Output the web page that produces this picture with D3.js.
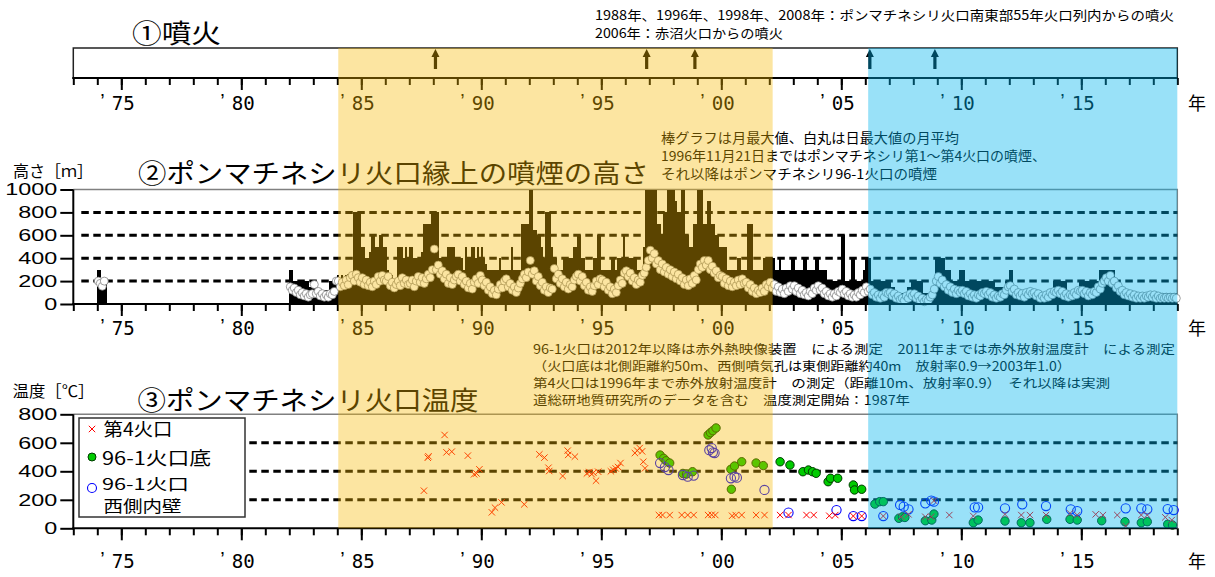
<!DOCTYPE html>
<meta charset='utf-8'>
<head>
  <style>
    body { margin: 0; background: #fff; }
    svg { display: block; }
    text { font-family: 'Noto Sans CJK JP', sans-serif; fill: #000; white-space: pre; }
    .num { font-family: 'Liberation Sans', Arial, sans-serif; }
    .mono { font-family: 'DejaVu Sans Mono', monospace; }
  </style>
</head>
<body>
<script src='https://d3js.org/d3.v7.min.js'></script>
<script>

// ---- data ----
var eruptions = [1988.09, 1996.89, 1998.9, 2006.19, 2008.9];
var shadeYellow = [1984.04, 2002.14];
var shadeBlue = [2006.12, 2019];
var smokeTicks = [0, 200, 400, 600, 800, 1000];
var tempTicks = [0, 200, 400, 600, 800];
var majorYears = [1975, 1980, 1985, 1990, 1995, 2000, 2005, 2010, 2015];

// monthly maximum plume height (bars), one row per year, from January
var barYears = [1974, 1982, 1983, 1984, 1985, 1986, 1987, 1988, 1989, 1990, 1991, 1992, 1993,
  1994, 1995, 1996, 1997, 1998, 1999, 2000, 2001, 2002, 2003, 2004, 2005, 2006, 2007, 2008,
  2009, 2010, 2011, 2012, 2013, 2014, 2015, 2016, 2017, 2018];
var monthlyMax = [
  [300, 300, 180, 180, 180],
  [300, 300, 200, 200, 200, 200, 200, 200, 200, 200, 150, 150],
  [170, 170, 120, 120, 120, 120, 120, 120, 200, 200, 200, 200],
  [250, 230, 250, 200, 250, 260, 230, 250, 800, 800, 800, 800],
  [500, 500, 400, 400, 450, 600, 600, 500, 500, 600, 600, 500],
  [500, 300, 250, 250, 200, 200, 500, 500, 500, 400, 500, 400],
  [500, 500, 400, 400, 400, 400, 450, 700, 700, 700, 700, 800],
  [800, 800, 800, 400, 400, 400, 400, 500, 500, 500, 500, 400],
  [400, 400, 400, 300, 500, 400, 400, 500, 500, 400, 500, 400],
  [500, 400, 350, 300, 300, 300, 300, 300, 300, 400, 300, 300],
  [300, 300, 300, 500, 300, 300, 300, 300, 700, 700, 700, 700],
  [1000, 1000, 650, 650, 600, 600, 500, 400, 800, 800, 800, 500],
  [400, 400, 300, 300, 300, 400, 400, 400, 400, 400, 500, 500],
  [600, 600, 400, 400, 300, 300, 300, 300, 400, 400, 600, 600],
  [300, 300, 300, 300, 300, 400, 400, 300, 400, 400, 400, 600],
  [400, 400, 400, 400, 400, 400, 300, 300, 300, 500, 1000, 1000],
  [1000, 1000, 1000, 1000, 700, 700, 600, 800, 800, 1000, 1000, 1000],
  [1000, 900, 800, 800, 1000, 1000, 600, 600, 500, 500, 700, 700],
  [1000, 1000, 1000, 700, 700, 900, 900, 700, 700, 600, 600, 500],
  [500, 500, 500, 300, 300, 300, 300, 300, 400, 400, 300, 300],
  [300, 700, 700, 700, 300, 300, 300, 300, 300, 400, 400, 400],
  [400, 400, 400, 300, 300, 400, 300, 300, 300, 300, 300, 400],
  [400, 300, 300, 300, 300, 400, 400, 300, 300, 300, 300, 400],
  [400, 300, 300, 300, 300, 200, 200, 200, 200, 200, 200, 200],
  [600, 600, 200, 200, 200, 400, 400, 200, 200, 200, 200, 300],
  [400, 400, 400, 200, 200, 200, 200, 200, 200, 200, 200, 200],
  [200, 150, 150, 100, 100, 100, 100, 100, 100, 150, 150, 200],
  [200, 200, 200, 200, 200, 100, 100, 100, 100, 100, 150, 400],
  [400, 400, 400, 400, 300, 300, 300, 200, 200, 200, 200, 300],
  [300, 300, 200, 200, 200, 200, 200, 200, 200, 200, 200, 200],
  [200, 200, 200, 200, 200, 150, 150, 150, 150, 150, 200, 200],
  [300, 300, 150, 150, 100, 100, 100, 100, 100, 100, 100, 100],
  [100, 100, 100, 100, 100, 100, 100, 100, 100, 100, 200, 200],
  [200, 200, 200, 200, 200, 100, 100, 100, 100, 100, 100, 200],
  [200, 200, 200, 200, 200, 200, 200, 200, 200, 300, 300, 300],
  [300, 300, 300, 300, 300, 200, 200, 100, 100, 100, 100, 100],
  [100, 100, 100, 100, 100, 100, 100, 100, 100, 100, 100, 100],
  [100, 100, 100, 100, 100, 100, 100, 100, 100, 100, 100, 100]
];
// monthly mean of daily maximum (white circles), same rows
var monthlyMean = [
  [200, 180, 155, 200],
  [150, 120, 140, 100, 120, 80, 100, 70, 90, 60, 80, 90],
  [170, 90, 110, 70, 90, 60, 80, 60, 90, 80, 110, 200],
  [200, 150, 190, 160, 210, 170, 230, 250, 200, 260, 230, 190],
  [230, 170, 210, 160, 190, 150, 200, 170, 240, 200, 250, 210],
  [200, 240, 160, 190, 140, 170, 200, 160, 230, 180, 210, 170],
  [180, 210, 150, 200, 240, 190, 230, 180, 220, 260, 230, 300],
  [480, 300, 340, 260, 290, 220, 260, 180, 230, 170, 210, 240],
  [260, 200, 240, 170, 200, 140, 180, 130, 190, 220, 180, 250],
  [210, 160, 190, 120, 150, 90, 120, 80, 130, 170, 140, 200],
  [220, 150, 180, 120, 150, 100, 140, 180, 220, 260, 230, 280],
  [380, 260, 290, 200, 240, 160, 190, 120, 150, 100, 140, 130],
  [310, 220, 260, 180, 220, 150, 190, 130, 170, 150, 210, 240],
  [260, 200, 240, 160, 190, 120, 150, 110, 160, 200, 170, 220],
  [210, 150, 190, 120, 150, 90, 130, 100, 160, 210, 180, 270],
  [290, 240, 270, 200, 230, 170, 210, 190, 250, 270, 320, 380],
  [470, 400, 440, 350, 380, 300, 350, 280, 320, 260, 300, 240],
  [280, 220, 260, 200, 230, 170, 210, 160, 220, 180, 250, 210],
  [300, 350, 320, 380, 340, 380, 300, 330, 270, 290, 230, 250],
  [240, 180, 220, 160, 200, 150, 190, 160, 210, 170, 220, 180],
  [190, 140, 170, 110, 140, 90, 120, 100, 140, 110, 170, 150],
  [190, 140, 170, 110, 150, 100, 130, 90, 140, 110, 160, 130],
  [160, 110, 140, 90, 120, 80, 100, 70, 110, 90, 140, 120],
  [160, 120, 140, 90, 110, 70, 90, 60, 90, 70, 110, 100],
  [130, 90, 110, 70, 90, 60, 80, 60, 100, 80, 120, 100],
  [150, 110, 130, 80, 100, 60, 80, 50, 80, 60, 100, 90],
  [100, 70, 90, 50, 70, 40, 50, 30, 70, 50, 90, 70],
  [90, 50, 70, 30, 50, 20, 40, 30, 60, 80, 130, 200],
  [240, 180, 210, 150, 170, 120, 150, 100, 130, 90, 120, 100],
  [120, 90, 110, 70, 90, 60, 80, 50, 80, 70, 100, 90],
  [110, 80, 100, 60, 80, 50, 70, 60, 90, 80, 120, 150],
  [160, 110, 130, 80, 100, 70, 90, 60, 100, 80, 110, 90],
  [100, 70, 90, 50, 70, 50, 80, 60, 100, 80, 110, 100],
  [120, 90, 110, 70, 90, 60, 80, 70, 100, 80, 120, 110],
  [120, 90, 110, 70, 100, 80, 110, 100, 150, 130, 180, 200],
  [230, 200, 250, 180, 200, 140, 160, 110, 120, 80, 100, 70],
  [90, 60, 80, 50, 70, 50, 70, 50, 70, 60, 80, 60],
  [80, 50, 70, 50, 60, 50, 60, 50, 60, 50, 60, 50]
];

// crater temperatures [year, degC]
var crater4 = [
  [1987.61, 264], [1987.77, 495], [1987.8, 505], [1988.47, 655], [1988.55, 533], [1988.77, 538],
  [1989.44, 510], [1989.7, 379], [1989.8, 385], [1989.92, 414], [1990.44, 112], [1990.57, 145],
  [1990.84, 182], [1991.79, 168], [1992.42, 519], [1992.63, 496], [1992.8, 425], [1992.83, 402],
  [1993.39, 367], [1993.6, 545], [1993.62, 515], [1993.9, 503], [1994.4, 385], [1994.5, 395],
  [1994.6, 380], [1994.67, 390], [1994.78, 334], [1994.87, 397], [1995.4, 400], [1995.5, 410],
  [1995.6, 420], [1995.7, 430], [1995.8, 458], [1996.4, 528], [1996.5, 545], [1996.6, 563],
  [1996.7, 540], [1996.75, 467], [1996.82, 421],
  [1997.4, 93], [1997.55, 93], [1997.85, 93], [1998.35, 93], [1998.6, 93], [1998.85, 93],
  [1999.45, 93], [1999.6, 95], [1999.75, 93], [2000.45, 88], [2000.6, 93], [2000.85, 93],
  [2001.45, 93], [2001.8, 93], [2002.45, 93], [2002.8, 93], [2003.55, 93], [2003.85, 93],
  [2004.5, 88], [2004.75, 93], [2005.5, 86], [2005.85, 86], [2006.75, 86], [2007.5, 81],
  [2007.8, 98], [2008.5, 81], [2008.75, 81], [2008.86, 194], [2009.5, 93], [2010.5, 86],
  [2011.82, 98], [2012.5, 93], [2012.86, 93], [2013.53, 93], [2014.53, 105], [2014.83, 93],
  [2015.6, 98], [2015.9, 93], [2016.5, 93], [2016.85, 16], [2017.5, 93], [2017.75, 93],
  [2018.5, 77], [2018.77, 58]
];
var floor961 = [
  [1997.45, 514], [1997.6, 491], [1997.7, 474], [1997.85, 458], [1998.4, 385], [1998.55, 381],
  [1998.8, 397], [1999.45, 655], [1999.55, 671], [1999.65, 685], [1999.78, 704], [2000.4, 414],
  [2000.55, 437], [2000.85, 467], [2000.42, 274], [2001.45, 458], [2001.75, 440], [2002.45, 467],
  [2002.86, 444], [2003.4, 397], [2003.63, 409], [2003.8, 397], [2003.95, 386], [2004.45, 327],
  [2004.55, 351], [2004.85, 351], [2005.5, 304], [2005.55, 269], [2005.85, 274], [2006.4, 170],
  [2006.6, 187], [2006.75, 187], [2007.4, 70], [2007.55, 81], [2007.65, 76], [2008.5, 53],
  [2008.77, 58], [2008.86, 100], [2010.5, 39], [2010.7, 58], [2011.82, 51], [2012.5, 39],
  [2012.86, 39], [2013.56, 63], [2014.53, 63], [2014.83, 58], [2015.85, 53], [2016.82, 46],
  [2017.5, 39], [2017.75, 46], [2018.6, 28], [2018.8, 23]
];
var wall961 = [
  [1997.45, 458], [1997.65, 430], [1997.8, 409], [1998.4, 374], [1998.6, 362], [1998.85, 370],
  [1999.5, 548], [1999.6, 563], [1999.72, 528], [1999.65, 533], [2000.4, 351], [2000.55, 362],
  [2000.65, 355], [2001.8, 269], [2002.8, 110], [2004.8, 128], [2005.5, 86], [2005.85, 86],
  [2006.75, 86], [2007.45, 164], [2007.6, 152], [2007.8, 133], [2008.5, 175], [2008.75, 194],
  [2008.86, 187], [2010.56, 147], [2010.7, 147], [2011.82, 140], [2012.54, 168], [2013.53, 156],
  [2014.56, 133], [2014.83, 121], [2016.85, 140], [2017.5, 140], [2017.75, 133], [2018.6, 135],
  [2018.85, 128]
];

// ---- layout ----
var W = 1215, H = 577;
var p1 = {top: 48, bottom: 78},
    p2 = {top: 189.5, bottom: 304},
    p3 = {top: 414.3, bottom: 528.3};

var x = d3.scaleLinear().domain([1973, 2019]).range([73.3, 1177.3]);
var ySmoke = d3.scaleLinear().domain([0, 1000]).range([p2.bottom, p2.top]);
var yTemp = d3.scaleLinear().domain([0, 800]).range([p3.bottom, p3.top]);

var svg = d3.select('body').append('svg')
    .attr('width', W)
    .attr('height', H);
svg.append('rect').attr('width', W).attr('height', H).attr('fill', '#fff');

function label(txt, px, py, size, len, cls) {
  var t = svg.append('text')
      .attr('x', px).attr('y', py)
      .style('font-size', size + 'px')
      .text(txt);
  if (cls) t.attr('class', cls);
  if (len) t.attr('textLength', len).attr('lengthAdjust', 'spacingAndGlyphs');
  return t;
}

function xAxis(yPos, baseline) {
  var g = svg.append('g').attr('transform', 'translate(0,' + yPos + ')');
  g.append('g')
      .call(d3.axisBottom(x).tickValues(d3.range(1973, 2020)).tickSize(7).tickFormat(''))
      .call(a => a.select('.domain').remove());
  g.append('g')
      .call(d3.axisBottom(x).tickValues(majorYears).tickSize(12).tickFormat(''))
      .call(a => a.select('.domain').remove());
  g.selectAll('.tick line').attr('stroke', '#000').attr('stroke-width', 2);
  g.append('line').attr('x1', x(1973) - 1).attr('x2', x(2019)).attr('stroke', '#000').attr('stroke-width', 2);
  majorYears.forEach(yr => {
    label(d3.format('02d')(yr % 100), x(yr) + 2, baseline, 20, 23, 'mono').attr('text-anchor', 'middle');
    label('\u2019', x(yr) - 21, baseline - 2, 20, null, 'num');
  });
  label('年', 1197, baseline, 18).attr('text-anchor', 'middle');
}

function yAxis(scale, ticks, bottom, top) {
  var g = svg.append('g').attr('transform', 'translate(' + x(1973) + ',0)');
  g.call(d3.axisLeft(scale).tickValues(ticks).tickFormat(d3.format('d')).tickSize(13).tickPadding(3))
    .call(a => a.select('.domain').remove());
  g.selectAll('.tick line').attr('stroke', '#000').attr('stroke-width', 2);
  g.selectAll('.tick text')
      .attr('class', 'num')
      .style('font-size', '17px')
      .attr('fill', '#000')
      .attr('textLength', d => String(d).length * 13)
      .attr('lengthAdjust', 'spacingAndGlyphs');
  svg.append('line').attr('x1', x(1973)).attr('x2', x(1973))
      .attr('y1', top).attr('y2', bottom + 1).attr('stroke', '#000').attr('stroke-width', 2);
}

function frame(top, bottom) {
  svg.append('path')
      .attr('d', 'M' + x(1973) + ',' + top + 'H' + x(2019) + 'V' + bottom)
      .attr('fill', 'none').attr('stroke', '#808080').attr('stroke-width', 1.5);
}

function grid(scale, vals, x0) {
  svg.append('g').selectAll('line').data(vals).enter().append('line')
      .attr('x1', x0).attr('x2', x(2019))
      .attr('y1', d => scale(d)).attr('y2', d => scale(d))
      .attr('stroke', '#000').attr('stroke-width', 3)
      .attr('stroke-dasharray', '7.5,4.5');
}

// ---- panel 1: eruptions ----
label('①噴火', 132, 43, 26, 89);
label('1988年、1996年、1998年、2008年：ポンマチネシリ火口南東部55年火口列内からの噴火', 595, 20, 13, 579);
label('2006年：赤沼火口からの噴火', 595, 38, 13, 188);

svg.append('rect')
    .attr('x', x(1973)).attr('y', p1.top)
    .attr('width', x(2019) - x(1973)).attr('height', p1.bottom - p1.top)
    .attr('fill', 'none').attr('stroke', '#222').attr('stroke-width', 1.5);

svg.append('g').selectAll('path').data(eruptions).enter().append('path')
    .attr('d', d => {
      var px = x(d);
      return 'M' + (px - 1.6) + ',' + (p1.bottom - 9) + 'V' + (p1.top + 9) + 'H' + (px - 4) +
        'L' + px + ',' + (p1.top + 1) + 'L' + (px + 4) + ',' + (p1.top + 9) + 'H' + (px + 1.6) +
        'V' + (p1.bottom - 9) + 'Z';
    })
    .attr('fill', '#000');

xAxis(p1.bottom, 110);

// ---- panel 2: plume height ----
label('高さ［ｍ］', 13, 177, 16, 80);
label('②ポンマチネシリ火口縁上の噴煙の高さ', 138, 183, 26, 511);
label('棒グラフは月最大値、白丸は日最大値の月平均', 661, 143, 13.5, 298);
label('1996年11月21日まではポンマチネシリ第1～第4火口の噴煙、', 661, 161, 13.5, 385);
label('それ以降はポンマチネシリ96-1火口の噴煙', 661, 179, 13.5, 276);

frame(p2.top, p2.bottom);
grid(ySmoke, [200, 400, 600, 800], x(1973) + 8);

var smoke = [];
barYears.forEach((yr, i) => {
  monthlyMax[i].forEach((v, m) => {
    smoke.push({t: yr + m / 12, max: v, mean: monthlyMean[i][m]});
  });
});

svg.append('g').attr('shape-rendering', 'crispEdges')
  .selectAll('rect').data(smoke).enter().append('rect')
    .attr('x', d => Math.round(x(d.t)))
    .attr('width', d => Math.round(x(d.t + 1 / 12)) - Math.round(x(d.t)))
    .attr('y', d => Math.round(ySmoke(d.max)))
    .attr('height', d => Math.round(p2.bottom) - Math.round(ySmoke(d.max)))
    .attr('fill', '#000');

svg.append('g').selectAll('circle').data(smoke.filter(d => d.mean != null)).enter().append('circle')
    .attr('cx', d => x(d.t + 1 / 24))
    .attr('cy', d => ySmoke(d.mean))
    .attr('r', 4)
    .attr('fill', '#fff')
    .attr('stroke', '#777')
    .attr('stroke-width', 0.7);

yAxis(ySmoke, smokeTicks, p2.bottom, p2.top);
xAxis(p2.bottom, 335);

// ---- panel 3: temperature ----
label('96-1火口は2012年以降は赤外熱映像装置　による測定　2011年までは赤外放射温度計　による測定', 533, 354, 12.5, 642);
label('（火口底は北側距離約50m、西側噴気孔は東側距離約40m　放射率0.9→2003年1.0）', 533, 371, 12.5, 538);
label('第4火口は1996年まで赤外放射温度計　の測定（距離10m、放射率0.9）　それ以降は実測', 533, 388, 12.5, 577);
label('道総研地質研究所のデータを含む　温度測定開始：1987年', 533, 405, 12.5, 377);
label('温度［℃］', 12.5, 397, 16, 82);
label('③ポンマチネシリ火口温度', 137.5, 410, 26, 341);

frame(p3.top, p3.bottom);
grid(yTemp, [200, 400, 600], x(1973) + 8);

function cross(sel, size) {
  sel.append('path')
      .attr('d', 'M' + (-size) + ',' + (-size) + 'L' + size + ',' + size +
                 'M' + (-size) + ',' + size + 'L' + size + ',' + (-size))
      .attr('stroke', '#ff0000').attr('stroke-width', 1).attr('fill', 'none');
}

svg.append('g').selectAll('circle').data(floor961).enter().append('circle')
    .attr('cx', d => x(d[0])).attr('cy', d => yTemp(d[1])).attr('r', 4.2)
    .attr('fill', '#00cc00').attr('stroke', '#003a00').attr('stroke-width', 1);

svg.append('g').selectAll('circle').data(wall961).enter().append('circle')
    .attr('cx', d => x(d[0])).attr('cy', d => yTemp(d[1])).attr('r', 4.6)
    .attr('fill', 'none').attr('stroke', '#0000ff').attr('stroke-width', 1.1);

svg.append('g').selectAll('g').data(crater4).enter().append('g')
    .attr('transform', d => 'translate(' + x(d[0]) + ',' + yTemp(d[1]) + ')')
    .call(cross, 3.2);

// legend
var lg = svg.append('g');
lg.append('rect').attr('x', 79).attr('y', 418).attr('width', 166).attr('height', 99)
    .attr('fill', '#fff').attr('stroke', '#333').attr('stroke-width', 1.5);
lg.append('g').attr('transform', 'translate(92,429)').call(cross, 3.2);
lg.append('circle').attr('cx', 92).attr('cy', 457).attr('r', 4)
    .attr('fill', '#00cc00').attr('stroke', '#003a00').attr('stroke-width', 1);
lg.append('circle').attr('cx', 92).attr('cy', 488).attr('r', 4.5)
    .attr('fill', 'none').attr('stroke', '#0000ff').attr('stroke-width', 1.1);
label('第4火口', 103.5, 436, 18, 69);
label('96-1火口底', 102, 465, 18, 109);
label('96-1火口', 102, 489.5, 15.5, 87);
label('西側内壁', 103.5, 512, 15.5, 78);

yAxis(yTemp, tempTicks, p3.bottom, p3.top);
xAxis(p3.bottom, 568);

// ---- period shading laid over everything ----
svg.append('rect')
    .attr('x', x(shadeYellow[0])).attr('width', x(shadeYellow[1]) - x(shadeYellow[0]))
    .attr('y', p1.top).attr('height', p3.bottom - p1.top)
    .attr('fill', '#f7b800').attr('fill-opacity', 0.37);
svg.append('rect')
    .attr('x', x(shadeBlue[0])).attr('width', x(shadeBlue[1]) - x(shadeBlue[0]))
    .attr('y', p1.top).attr('height', p3.bottom - p1.top)
    .attr('fill', '#00b4ed').attr('fill-opacity', 0.4);

</script>
</body>
